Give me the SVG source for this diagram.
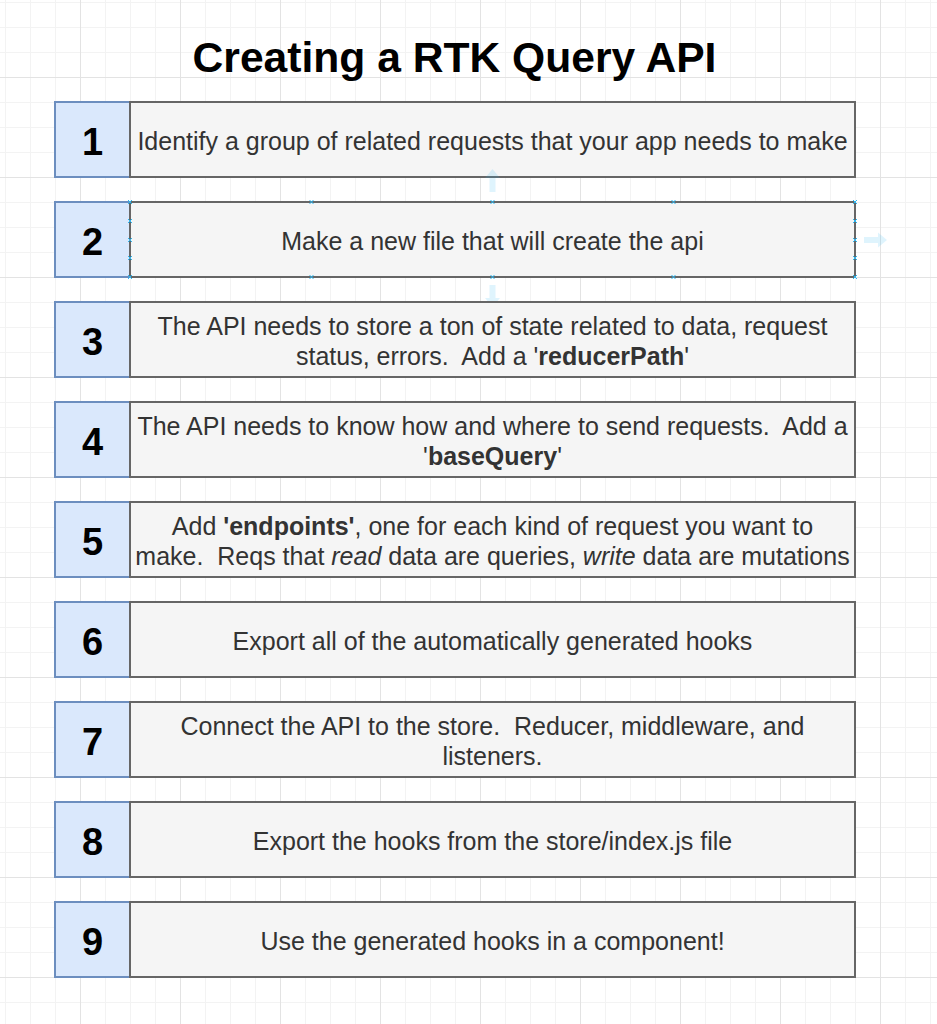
<svg xmlns="http://www.w3.org/2000/svg" width="937" height="1024" viewBox="0 0 937 1024">
  <style>
    .num { fill: #dae8fc; stroke: #6c8ebf; stroke-width: 2; }
    .box { fill: #f5f5f5; stroke: #666666; stroke-width: 2; }
    .numtxt { font-family: "Liberation Sans", Arial, Helvetica, sans-serif; font-weight: bold; font-size: 38px; fill: #000000; text-anchor: middle; }
    .txt { font-family: "Liberation Sans", Arial, Helvetica, sans-serif; font-size: 25px; fill: #333333; text-anchor: middle; white-space: pre; }
    .title { font-family: "Liberation Sans", Arial, Helvetica, sans-serif; font-weight: bold; font-size: 42.6px; fill: #000000; text-anchor: middle; }
    .b { font-weight: bold; }
    .i { font-style: italic; }
    .handle { stroke: #29b6f2; stroke-width: 1; fill: none; }
    .hint { fill: #29b6f2; opacity: 0.15; }
  </style>
  <defs>
    <pattern id="minor" patternUnits="userSpaceOnUse" x="5" y="2" width="25" height="25">
      <path d="M0.5 0 V25 M0 0.5 H25" stroke="#f3f3f3" stroke-width="1" fill="none"/>
    </pattern>
    <pattern id="major" patternUnits="userSpaceOnUse" x="80" y="77" width="100" height="100">
      <path d="M0.5 0 V100 M0 0.5 H100" stroke="#e3e3e3" stroke-width="1" fill="none"/>
    </pattern>
    <g id="hx"><path class="handle" d="M-2 -2 L2 2 M-2 2 L2 -2"/></g>
  </defs>

  <rect x="0" y="0" width="937" height="1024" fill="#ffffff"/>
  <rect x="0" y="0" width="937" height="1024" fill="url(#minor)"/>
  <rect x="0" y="0" width="937" height="1024" fill="url(#major)"/>

  <g id="title">
    <text class="title" x="454.5" y="72">Creating a RTK Query API</text>
  </g>

  <g id="connectors"></g>

  <g id="step1">
    <rect class="num" x="55" y="102" width="75" height="75"/>
    <rect class="box" x="130" y="102" width="725" height="75"/>
    <text class="numtxt" x="92.5" y="155">1</text>
    <text class="txt" x="492.5" y="149.5">Identify a group of related requests that your app needs to make</text>
  </g>

  <g id="step2">
    <rect class="num" x="55" y="202" width="75" height="75"/>
    <rect class="box" x="130" y="202" width="725" height="75"/>
    <text class="numtxt" x="92.5" y="255">2</text>
    <text class="txt" x="492.5" y="249.5">Make a new file that will create the api</text>
  </g>

  <g id="selection">
    <use href="#hx" x="130" y="202"/><use href="#hx" x="311.5" y="202"/><use href="#hx" x="492.5" y="202"/><use href="#hx" x="673.5" y="202"/><use href="#hx" x="855" y="202"/>
    <use href="#hx" x="130" y="277"/><use href="#hx" x="311.5" y="277"/><use href="#hx" x="492.5" y="277"/><use href="#hx" x="673.5" y="277"/><use href="#hx" x="855" y="277"/>
    <use href="#hx" x="130" y="221"/><use href="#hx" x="130" y="240"/><use href="#hx" x="130" y="258"/>
    <use href="#hx" x="855" y="221"/><use href="#hx" x="855" y="240"/><use href="#hx" x="855" y="258"/>
    <path class="hint" d="M492.5 169 L500 178 L495.5 178 L495.5 192 L489.5 192 L489.5 178 L485 178 Z"/>
    <path class="hint" d="M492.5 307 L500 298 L495.5 298 L495.5 285 L489.5 285 L489.5 298 L485 298 Z"/>
    <path class="hint" d="M887 240 L878 232.5 L878 237 L864 237 L864 243 L878 243 L878 247.5 Z"/>
  </g>

  <g id="step3">
    <rect class="num" x="55" y="302" width="75" height="75"/>
    <rect class="box" x="130" y="302" width="725" height="75"/>
    <text class="numtxt" x="92.5" y="355">3</text>
    <text class="txt" x="492.5" y="334.5">The API needs to store a ton of state related to data, request</text>
    <text class="txt" x="492.5" y="364.5">status, errors.  Add a '<tspan class="b">reducerPath</tspan>'</text>
  </g>

  <g id="step4">
    <rect class="num" x="55" y="402" width="75" height="75"/>
    <rect class="box" x="130" y="402" width="725" height="75"/>
    <text class="numtxt" x="92.5" y="455">4</text>
    <text class="txt" x="492.5" y="434.5">The API needs to know how and where to send requests.  Add a</text>
    <text class="txt" x="492.5" y="464.5">'<tspan class="b">baseQuery</tspan>'</text>
  </g>

  <g id="step5">
    <rect class="num" x="55" y="502" width="75" height="75"/>
    <rect class="box" x="130" y="502" width="725" height="75"/>
    <text class="numtxt" x="92.5" y="555">5</text>
    <text class="txt" x="492.5" y="534.5">Add <tspan class="b">'endpoints'</tspan>, one for each kind of request you want to</text>
    <text class="txt" x="492.5" y="564.5">make.  Reqs that <tspan class="i">read</tspan> data are queries, <tspan class="i">write</tspan> data are mutations</text>
  </g>

  <g id="step6">
    <rect class="num" x="55" y="602" width="75" height="75"/>
    <rect class="box" x="130" y="602" width="725" height="75"/>
    <text class="numtxt" x="92.5" y="655">6</text>
    <text class="txt" x="492.5" y="649.5">Export all of the automatically generated hooks</text>
  </g>

  <g id="step7">
    <rect class="num" x="55" y="702" width="75" height="75"/>
    <rect class="box" x="130" y="702" width="725" height="75"/>
    <text class="numtxt" x="92.5" y="755">7</text>
    <text class="txt" x="492.5" y="734.5">Connect the API to the store.  Reducer, middleware, and</text>
    <text class="txt" x="492.5" y="764.5">listeners.</text>
  </g>

  <g id="step8">
    <rect class="num" x="55" y="802" width="75" height="75"/>
    <rect class="box" x="130" y="802" width="725" height="75"/>
    <text class="numtxt" x="92.5" y="855">8</text>
    <text class="txt" x="492.5" y="849.5">Export the hooks from the store/index.js file</text>
  </g>

  <g id="step9">
    <rect class="num" x="55" y="902" width="75" height="75"/>
    <rect class="box" x="130" y="902" width="725" height="75"/>
    <text class="numtxt" x="92.5" y="955">9</text>
    <text class="txt" x="492.5" y="949.5">Use the generated hooks in a component!</text>
  </g>
</svg>
